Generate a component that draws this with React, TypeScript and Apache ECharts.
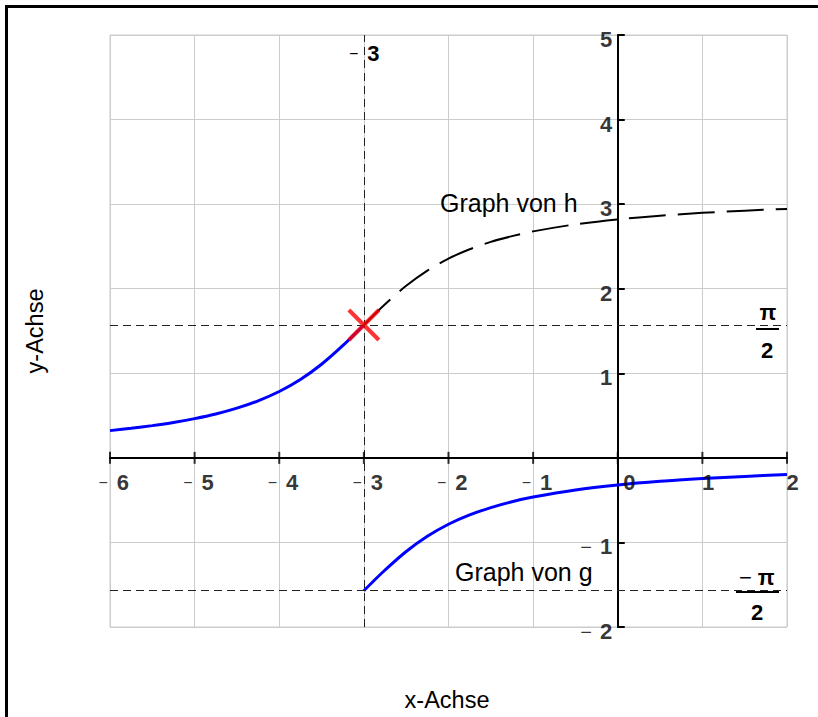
import React, { useEffect, useRef } from "react";
import * as echarts from "echarts";

// ---- data ----
const xTicks = [-6, -5, -4, -3, -2, -1, 0, 1, 2];
const yTicks = [-2, -1, 0, 1, 2, 3, 4, 5];

// h(x), solid blue part (x <= -3)
const hLeftX = [-6, -5.75, -5.5, -5.25, -5, -4.75, -4.5, -4.25, -4, -3.75, -3.5, -3.25, -3];
const hLeftY = [0.322, 0.349, 0.381, 0.418, 0.464, 0.519, 0.588, 0.675, 0.785, 0.927, 1.107, 1.326, 1.571];
// h(x), dashed black part (x >= -3)
const hRightX = [-3, -2.75, -2.5, -2.25, -2, -1.75, -1.5, -1.25, -1, -0.5, 0, 0.5, 1, 1.5, 2];
const hRightY = [1.571, 1.816, 2.034, 2.214, 2.356, 2.467, 2.554, 2.622, 2.678, 2.761, 2.82, 2.863, 2.897, 2.923, 2.944];
// g(x)
const gX = [-3, -2.9, -2.75, -2.5, -2.25, -2, -1.75, -1.5, -1.25, -1, -0.5, 0, 0.5, 1, 1.5, 2];
const gY = [-1.571, -1.471, -1.326, -1.107, -0.927, -0.785, -0.675, -0.588, -0.519, -0.464, -0.381, -0.322, -0.278, -0.245, -0.219, -0.197];
// red cross
const crossPoint = [-3, 1.5708];
// dashed guide lines
const guideX = [-3];
const guideY = [1.5708, -1.5708];

const FONT = "'Liberation Sans', Arial, sans-serif";

const zip = (xs: number[], ys: number[]) => xs.map((x, i) => [x, ys[i]]);

export default function App() {
  const ref = useRef<HTMLDivElement>(null);

  useEffect(() => {
    if (!ref.current) return;
    const chart = echarts.init(ref.current, null, { renderer: "svg" });

    const numRich = {
      m: { fontFamily: FONT, fontSize: 16, fontWeight: "normal", color: "#000", padding: [0, 9, 0, 0] },
      n: { fontFamily: FONT, fontSize: 22, fontWeight: "bold", color: "#000" },
    };
    const yRich = {
      m: { fontFamily: FONT, fontSize: 20, fontWeight: "normal", color: "#000", padding: [0, 8, 0, 0] },
      n: { fontFamily: FONT, fontSize: 22, fontWeight: "bold", color: "#000" },
    };

    const lineCommon = {
      type: "line",
      smooth: 0.3,
      showSymbol: false,
      silent: true,
      z: 4,
    };

    const option: any = {
      animation: false,
      backgroundColor: "#fff",
      grid: {
        left: 110,
        top: 35,
        right: 31,
        bottom: 90,
        show: true,
        borderColor: "#cccccc",
        borderWidth: 1,
      },
      xAxis: {
        type: "value",
        min: -6,
        max: 2,
        interval: 1,
        axisLine: { onZero: true, lineStyle: { color: "#000", width: 2 } },
        axisTick: { show: false },
        axisLabel: { show: false },
        splitLine: { show: true, lineStyle: { color: "#cccccc", width: 1 } },
      },
      yAxis: {
        type: "value",
        min: -2,
        max: 5,
        interval: 1,
        axisLine: { onZero: true, lineStyle: { color: "#000", width: 2 } },
        axisTick: { show: true, inside: true, length: 7, lineStyle: { color: "#000", width: 2 } },
        axisLabel: { show: false },
        splitLine: { show: true, lineStyle: { color: "#cccccc", width: 1 } },
      },
      series: [
        {
          ...lineCommon,
          name: "h links",
          data: zip(hLeftX, hLeftY),
          lineStyle: { color: "#0000ff", width: 3 },
          markLine: {
            silent: true,
            symbol: ["none", "none"],
            label: { show: false },
            lineStyle: { color: "#222", width: 1, type: [8, 5] },
            data: [
              ...guideX.map((v) => ({ xAxis: v })),
              ...guideY.map((v) => ({ yAxis: v })),
            ],
          },
        },
        {
          ...lineCommon,
          name: "h rechts",
          data: zip(hRightX, hRightY),
          lineStyle: { color: "#000", width: 2, type: [37, 12] },
        },
        {
          ...lineCommon,
          name: "g",
          data: zip(gX, gY),
          lineStyle: { color: "#0000ff", width: 3 },
        },
        {
          name: "x ticks",
          type: "scatter",
          data: xTicks.map((v) => [v, 0]),
          symbol: "rect",
          symbolSize: [2, 12],
          itemStyle: { color: "#000" },
          silent: true,
          clip: false,
          z: 5,
        },
        {
          name: "x labels",
          type: "scatter",
          symbolSize: 1,
          itemStyle: { color: "transparent" },
          silent: true,
          clip: false,
          z: 6,
          data: xTicks.map((v) => ({
            value: [v, 0],
            label: {
              show: true,
              color: "#000",
              position: [v < 0 ? -11 : v === 0 ? 6 : 0, 25],
              align: "left",
              verticalAlign: "middle",
              formatter: v < 0 ? `{m|−}{n|${-v}}` : `{n|${v}}`,
              rich: numRich,
            },
          })),
        },
        {
          name: "y labels",
          type: "scatter",
          symbolSize: 1,
          itemStyle: { color: "transparent" },
          silent: true,
          clip: false,
          z: 6,
          data: yTicks
            .filter((v) => v !== 0)
            .map((v) => ({
              value: [0, v],
              label: {
                show: true,
                color: "#000",
                position: [-5, 5],
                align: "right",
                verticalAlign: "middle",
                formatter: v < 0 ? `{m|−}{n|${-v}}` : `{n|${v}}`,
                rich: yRich,
              },
            })),
        },
        {
          name: "Kreuz",
          type: "scatter",
          data: [crossPoint],
          symbol: "path://M0,0L10,10M10,0L0,10",
          symbolSize: 30,
          itemStyle: { color: "rgba(0,0,0,0)", borderColor: "#ff0000", borderWidth: 4 },
          silent: true,
          z: 8,
        },
      ],
      graphic: [
        {
          type: "rect",
          shape: { x: 6.5, y: 6.5, width: 1200, height: 1200 },
          style: { fill: "none", stroke: "#000", lineWidth: 3 },
          silent: true,
          z: 100,
        },
        {
          type: "text",
          x: 440,
          y: 203,
          style: { text: "Graph von h", font: `25px ${FONT}`, fill: "#000", verticalAlign: "middle", align: "left" },
          z: 50,
        },
        {
          type: "text",
          x: 455,
          y: 572,
          style: { text: "Graph von g", font: `25px ${FONT}`, fill: "#000", verticalAlign: "middle", align: "left" },
          z: 50,
        },
        {
          type: "text",
          x: 447,
          y: 700,
          style: { text: "x-Achse", font: `23.5px ${FONT}`, fill: "#000", verticalAlign: "middle", align: "center" },
          z: 50,
        },
        {
          type: "text",
          x: 35,
          y: 331,
          rotation: Math.PI / 2,
          style: { text: "y-Achse", font: `23.5px ${FONT}`, fill: "#000", verticalAlign: "middle", align: "center" },
          z: 50,
        },
        {
          type: "text",
          x: 349,
          y: 53,
          style: {
            text: "{m|−}{n|3}",
            verticalAlign: "middle",
            align: "left",
            rich: numRich,
          },
          z: 50,
        },
        // pi / 2
        {
          type: "text",
          x: 768,
          y: 312,
          style: { text: "π", font: `bold 22px ${FONT}`, fill: "#000", verticalAlign: "middle", align: "center" },
          z: 50,
        },
        {
          type: "line",
          shape: { x1: 756, y1: 329, x2: 779, y2: 329 },
          style: { stroke: "#000", lineWidth: 2 },
          z: 50,
        },
        {
          type: "text",
          x: 767,
          y: 350,
          style: { text: "2", font: `bold 22px ${FONT}`, fill: "#000", verticalAlign: "middle", align: "center" },
          z: 50,
        },
        // -pi / 2
        {
          type: "text",
          x: 739,
          y: 577,
          style: {
            text: "{m|−}{n|π}",
            verticalAlign: "middle",
            align: "left",
            rich: {
              m: { fontFamily: FONT, fontSize: 22, fontWeight: "normal", color: "#000", padding: [0, 6, 0, 0] },
              n: { fontFamily: FONT, fontSize: 22, fontWeight: "bold", color: "#000" },
            },
          },
          z: 50,
        },
        {
          type: "line",
          shape: { x1: 736, y1: 592, x2: 779, y2: 592 },
          style: { stroke: "#000", lineWidth: 2 },
          z: 50,
        },
        {
          type: "text",
          x: 757,
          y: 612,
          style: { text: "2", font: `bold 22px ${FONT}`, fill: "#000", verticalAlign: "middle", align: "center" },
          z: 50,
        },
      ],
    };

    chart.setOption(option);
    return () => chart.dispose();
  }, []);

  return (
    <div
      ref={ref}
      style={{ position: "absolute", left: 0, top: 0, width: 818, height: 717, background: "#fff" }}
    />
  );
}
